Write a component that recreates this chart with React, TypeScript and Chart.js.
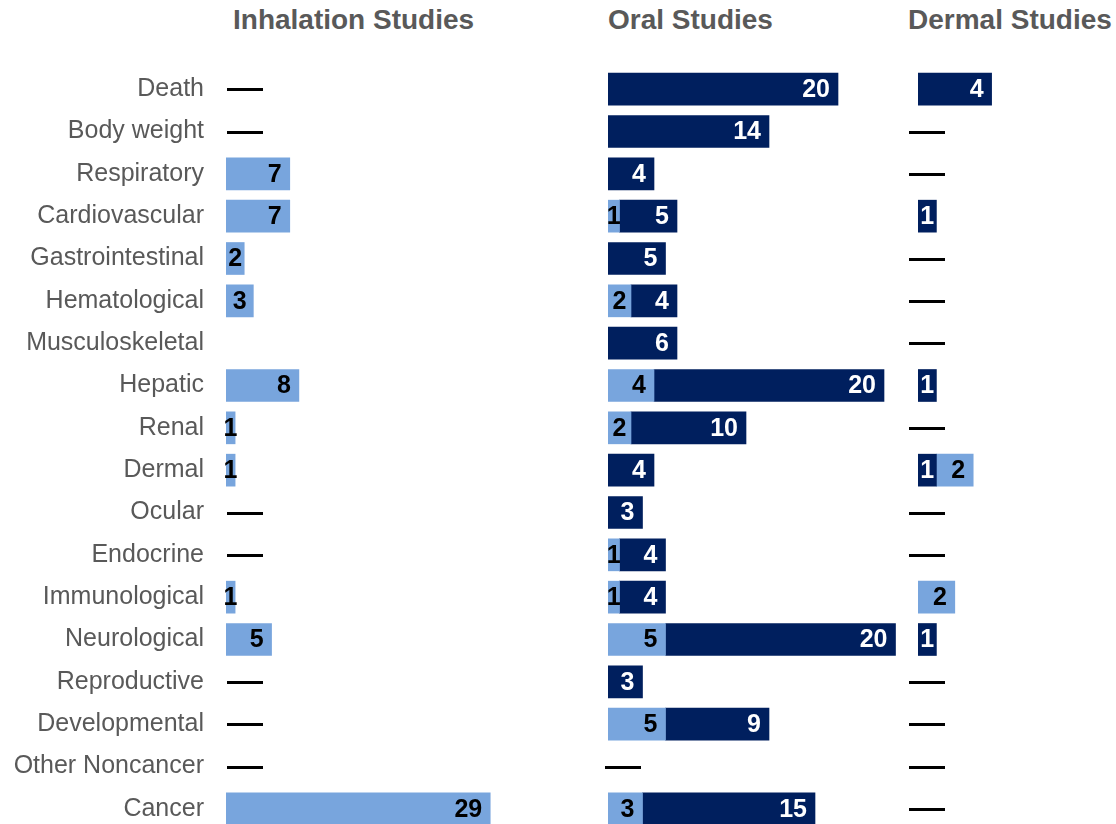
import React, { useEffect, useRef } from "react";
import { Chart, registerables } from "chart.js";

Chart.register(...registerables);

const categories = [
  "Death", "Body weight", "Respiratory", "Cardiovascular", "Gastrointestinal",
  "Hematological", "Musculoskeletal", "Hepatic", "Renal", "Dermal", "Ocular",
  "Endocrine", "Immunological", "Neurological", "Reproductive", "Developmental",
  "Other Noncancer", "Cancer",
];

// null = no entry (no dash), 0 = dash
const inhalationLight = [0, 0, 7, 7, 2, 3, null, 8, 1, 1, 0, 0, 1, 5, 0, 0, 0, 29];
const oralLight = [0, 0, 0, 1, 0, 2, 0, 4, 2, 0, 0, 1, 1, 5, 0, 5, 0, 3];
const oralDark = [20, 14, 4, 5, 5, 4, 6, 20, 10, 4, 3, 4, 4, 20, 3, 9, 0, 15];
const dermalDark = [4, 0, 0, 1, 0, 0, 0, 1, 0, 1, 0, 0, 0, 1, 0, 0, 0, 0];
const dermalLight = [0, 0, 0, 0, 0, 0, 0, 0, 0, 2, 0, 0, 2, 0, 0, 0, 0, 0];

const panelTitles = ["Inhalation Studies", "Oral Studies", "Dermal Studies"];
const axisMax = [36, 26, 10];

const LIGHT = "#78A5DD";
const DARK = "#001F5E";
const FONT = "'Liberation Sans', Arial, Helvetica, sans-serif";

const colorFor = (c: string) => (ctx: any) => (ctx.raw ? c : "rgba(0,0,0,0)");

const barLabelPlugin = {
  id: "barLabels",
  afterDatasetsDraw(chart: any, _args: any, opts: any) {
    const ctx = chart.ctx;
    ctx.save();
    ctx.font = `bold 25px ${FONT}`;
    ctx.textBaseline = "middle";
    chart.data.datasets.forEach((ds: any, di: number) => {
      const meta = chart.getDatasetMeta(di);
      meta.data.forEach((el: any, i: number) => {
        const v = ds.data[i];
        if (!v) return;
        const p = el.getProps(["x", "y", "base"], true);
        const left = Math.min(p.x, p.base);
        const right = Math.max(p.x, p.base);
        const text = String(v);
        const w = ctx.measureText(text).width;
        const pad = 8;
        ctx.fillStyle = ds.labelColor;
        if (right - left >= w + 2 * pad) {
          ctx.textAlign = "right";
          ctx.fillText(text, right - pad, p.y + 1);
        } else {
          ctx.textAlign = "center";
          ctx.fillText(text, (left + right) / 2, p.y + 1);
        }
      });
    });
    const xs = chart.scales.x;
    const ys = chart.scales.y;
    const x0 = xs.getPixelForValue(0);
    const off = opts.dashOffset || 0;
    const len = opts.dashLength || 36;
    chart.data.labels.forEach((_l: any, i: number) => {
      const vals = chart.data.datasets.map((d: any) => d.data[i]);
      if (vals.every((v: any) => v === null || v === undefined)) return;
      const total = vals.reduce((a: number, v: any) => a + (v || 0), 0);
      if (total !== 0) return;
      const yy = Math.round(ys.getPixelForValue(i)) + 0.5;
      ctx.beginPath();
      ctx.moveTo(x0 + off, yy);
      ctx.lineTo(x0 + off + len, yy);
      ctx.lineWidth = 3;
      ctx.strokeStyle = "#000";
      ctx.stroke();
    });
    ctx.restore();
  },
};

function makeConfig(datasets: any[], max: number, padLeft: number, showLabels: boolean, dashOffset: number) {
  const yScale: any = {
    stacked: true,
    display: showLabels,
    grid: { display: false, drawTicks: false },
    border: { display: false },
    ticks: {
      padding: 22,
      color: "#595959",
      font: { size: 25, family: FONT },
      autoSkip: false,
    },
  };
  if (showLabels) {
    yScale.afterFit = (s: any) => {
      s.width = 226;
    };
  }
  return {
    type: "bar" as const,
    data: { labels: categories, datasets },
    options: {
      indexAxis: "y" as const,
      responsive: false,
      maintainAspectRatio: false,
      animation: false as const,
      layout: { padding: { top: 68, left: padLeft, right: 0, bottom: 0 } },
      plugins: {
        legend: { display: false },
        tooltip: { enabled: false },
        title: { display: false },
        barLabels: { dashOffset, dashLength: 36 },
      },
      datasets: { bar: { barThickness: 32, borderWidth: 0 } },
      scales: {
        x: { stacked: true, min: 0, max, display: false },
        y: yScale,
      },
    },
    plugins: [barLabelPlugin],
  };
}

export default function App() {
  const c1 = useRef<HTMLCanvasElement>(null);
  const c2 = useRef<HTMLCanvasElement>(null);
  const c3 = useRef<HTMLCanvasElement>(null);

  useEffect(() => {
    const charts: Chart[] = [];
    charts.push(
      new Chart(
        c1.current as HTMLCanvasElement,
        makeConfig(
          [{ label: "Light", data: inhalationLight, backgroundColor: colorFor(LIGHT), labelColor: "#000" }],
          axisMax[0], 0, true, 1
        ) as any
      )
    );
    charts.push(
      new Chart(
        c2.current as HTMLCanvasElement,
        makeConfig(
          [
            { label: "Light", data: oralLight, backgroundColor: colorFor(LIGHT), labelColor: "#000" },
            { label: "Dark", data: oralDark, backgroundColor: colorFor(DARK), labelColor: "#fff" },
          ],
          axisMax[1], 8, false, -3
        ) as any
      )
    );
    charts.push(
      new Chart(
        c3.current as HTMLCanvasElement,
        makeConfig(
          [
            { label: "Dark", data: dermalDark, backgroundColor: colorFor(DARK), labelColor: "#fff" },
            { label: "Light", data: dermalLight, backgroundColor: colorFor(LIGHT), labelColor: "#000" },
          ],
          axisMax[2], 18, false, -9
        ) as any
      )
    );
    return () => charts.forEach((c) => c.destroy());
  }, []);

  const titleStyle = (left: number): React.CSSProperties => ({
    position: "absolute",
    top: 6,
    left,
    font: `bold 28px ${FONT}`,
    lineHeight: "28px",
    color: "#595959",
    whiteSpace: "nowrap",
  });

  return (
    <div
      style={{
        position: "fixed",
        left: 0,
        top: 0,
        width: 1116,
        height: 824,
        overflow: "hidden",
        background: "#fff",
      }}
    >
      <div style={titleStyle(233)}>{panelTitles[0]}</div>
      <div style={titleStyle(608)}>{panelTitles[1]}</div>
      <div style={titleStyle(908)}>{panelTitles[2]}</div>
      <canvas ref={c1} width={554} height={867} style={{ position: "absolute", left: 0, top: 0 }} />
      <canvas ref={c2} width={307} height={830} style={{ position: "absolute", left: 600, top: 0 }} />
      <canvas ref={c3} width={202} height={830} style={{ position: "absolute", left: 900, top: 0 }} />
    </div>
  );
}
